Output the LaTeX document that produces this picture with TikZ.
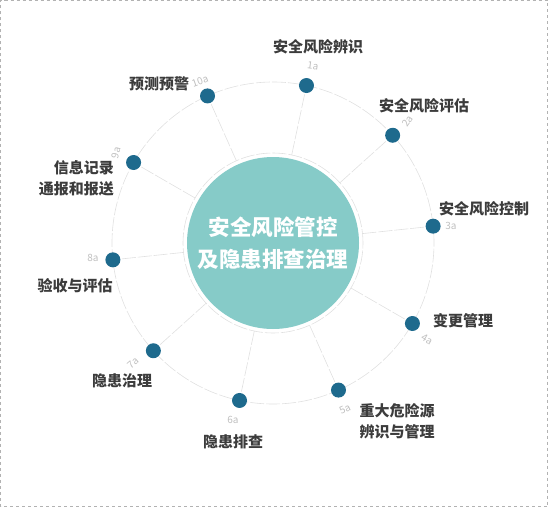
\documentclass[tikz,border=0pt]{standalone}
\usepackage{fontspec}
\setmainfont{Noto Sans CJK SC}
\usetikzlibrary{positioning}
\definecolor{hubteal}{HTML}{86CBC8}
\definecolor{dotblue}{HTML}{1E6A8D}
\definecolor{labelgray}{HTML}{3C3C3C}

\begin{document}
\begin{tikzpicture}
	[
		x = 1pt, y = 1pt,
		hub/.style = {shape=circle, fill=hubteal, minimum size=172pt, inner sep=0pt, outer sep=4pt, text=white, font=\bfseries\fontsize{21.5}{32}\selectfont, align=center},
		ring/.style = {draw=black!12, line width=.6pt, dash pattern=on 14pt off 2pt},
		dot/.style = {shape=circle, fill=dotblue, minimum size=15pt, inner sep=0pt},
		tag/.style = {text=labelgray, font=\bfseries\fontsize{15}{21}\selectfont, inner sep=0pt},
		num/.style = {text=black!25, font=\fontsize{10}{10}\selectfont, inner sep=0pt}
	]
	
	\useasboundingbox (0, 0) rectangle (548, 507);
	\draw [black!30, dashed, line width=.6pt] (.5, .5) rectangle (547.5, 506.5);
	
	\def\cx{273}
	\def\cy{264}
	
	\node [hub] (hub) at (\cx, \cy) {安全风险管控\\及隐患排查治理};
	\draw [ring] (hub.center) circle (90);
	\draw [ring] (hub.center) circle (161);
	
	\foreach \i in {1, ..., 10} { \node [dot] (d\i) at ([shift={(\cx, \cy)}] {114 - 36*\i}:161) {}; }
	\foreach \i in {1, ..., 10} { \draw [ring] (hub) -- (d\i); }
	
	\node [tag] (t1) at (318, 460) {安全风险辨识};
	\node [tag] (t2) at (424, 401) {安全风险评估};
	\node [tag] (t3) at (484, 298) {安全风险控制};
	\node [tag] (t4) at (463, 186) {变更管理};
	\node [tag, align=left] (t5) at (397, 85.5) {重大危险源\\辨识与管理};
	\node [tag] (t6) at (233, 65) {隐患排查};
	\node [tag] (t7) at (122, 126) {隐患治理};
	\node [tag] (t8) at (75, 221) {验收与评估};
	\node [tag, align=right, anchor=east] (t9) at (114, 328.5) {信息记录\\通报和报送};
	\node [tag] (t10) at (159, 423) {预测预警};
	
	\foreach \n/\x/\y/\r in {1/313/441/-8, 2/408/386/55, 3/451/281/0, 4/427/168/-30, 5/345/98/25,
		6/233/87/0, 7/133/144/40, 8/93/249/0, 9/116/354/75, 10/200/426/20}
		{ \node [num, rotate=\r] (n\n) at (\x, \y) {\n a}; }
\end{tikzpicture}
\end{document}
